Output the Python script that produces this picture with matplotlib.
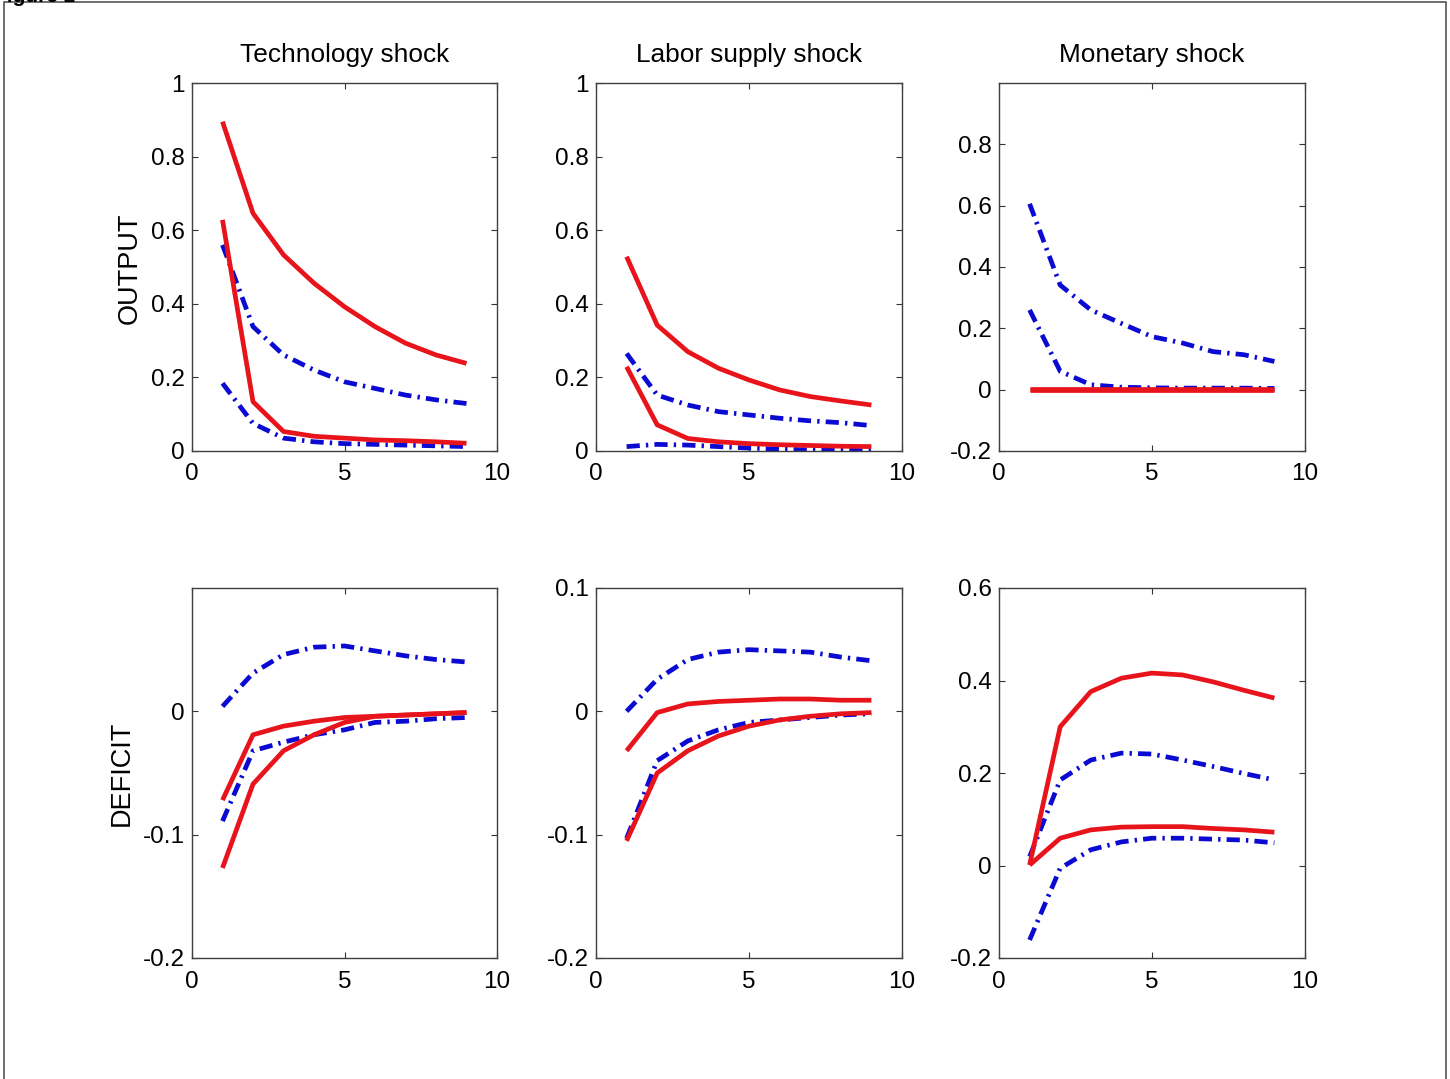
import matplotlib
matplotlib.use("Agg")
import matplotlib.pyplot as plt
from matplotlib.patches import Rectangle

plt.rcParams['font.family'] = ['Liberation Sans', 'DejaVu Sans']

periods = [1, 2, 3, 4, 5, 6, 7, 8, 9]
col_titles = ["Technology shock", "Labor supply shock", "Monetary shock"]
row_labels = ["OUTPUT", "DEFICIT"]

# OUTPUT responses
out_tech_red_hi = [0.895, 0.646, 0.533, 0.456, 0.392, 0.338, 0.293, 0.261, 0.238]
out_tech_red_lo = [0.628, 0.134, 0.053, 0.040, 0.035, 0.030, 0.028, 0.025, 0.021]
out_tech_blue_hi = [0.560, 0.338, 0.261, 0.220, 0.188, 0.170, 0.152, 0.139, 0.129]
out_tech_blue_lo = [0.184, 0.075, 0.035, 0.025, 0.020, 0.018, 0.016, 0.014, 0.012]

out_labor_red_hi = [0.528, 0.342, 0.270, 0.225, 0.193, 0.166, 0.148, 0.136, 0.125]
out_labor_red_lo = [0.229, 0.071, 0.034, 0.025, 0.020, 0.017, 0.015, 0.013, 0.012]
out_labor_blue_hi = [0.265, 0.152, 0.125, 0.107, 0.098, 0.089, 0.082, 0.077, 0.069]
out_labor_blue_lo = [0.012, 0.018, 0.016, 0.012, 0.008, 0.005, 0.003, 0.002, 0.001]

out_mon_red_hi = [0.002, 0.002, 0.002, 0.002, 0.002, 0.002, 0.002, 0.002, 0.002]
out_mon_red_lo = [0.0, 0.0, 0.0, 0.0, 0.0, 0.0, 0.0, 0.0, 0.0]
out_mon_blue_hi = [0.606, 0.341, 0.260, 0.216, 0.173, 0.152, 0.124, 0.114, 0.092]
out_mon_blue_lo = [0.260, 0.060, 0.016, 0.008, 0.006, 0.005, 0.005, 0.005, 0.004]

# DEFICIT responses
def_tech_red_hi = [-0.072, -0.019, -0.012, -0.008, -0.005, -0.004, -0.003, -0.002, -0.001]
def_tech_red_lo = [-0.127, -0.059, -0.032, -0.019, -0.009, -0.004, -0.003, -0.002, -0.001]
def_tech_blue_hi = [0.004, 0.031, 0.046, 0.052, 0.053, 0.049, 0.045, 0.042, 0.040]
def_tech_blue_lo = [-0.089, -0.032, -0.025, -0.019, -0.015, -0.009, -0.008, -0.006, -0.005]

def_labor_red_hi = [-0.032, -0.001, 0.006, 0.008, 0.009, 0.010, 0.010, 0.009, 0.009]
def_labor_red_lo = [-0.105, -0.050, -0.032, -0.020, -0.012, -0.007, -0.004, -0.002, -0.001]
def_labor_blue_hi = [0.000, 0.026, 0.042, 0.048, 0.050, 0.049, 0.048, 0.044, 0.041]
def_labor_blue_lo = [-0.103, -0.040, -0.024, -0.015, -0.009, -0.007, -0.005, -0.003, -0.002]

def_mon_red_hi = [0.001, 0.300, 0.376, 0.405, 0.416, 0.412, 0.397, 0.379, 0.362]
def_mon_red_lo = [0.001, 0.059, 0.077, 0.083, 0.084, 0.084, 0.080, 0.077, 0.072]
def_mon_blue_hi = [0.019, 0.185, 0.228, 0.243, 0.241, 0.228, 0.214, 0.199, 0.185]
def_mon_blue_lo = [-0.161, -0.006, 0.034, 0.051, 0.059, 0.059, 0.057, 0.055, 0.049]

panels = [
    [(out_tech_red_hi, out_tech_red_lo, out_tech_blue_hi, out_tech_blue_lo),
     (out_labor_red_hi, out_labor_red_lo, out_labor_blue_hi, out_labor_blue_lo),
     (out_mon_red_hi, out_mon_red_lo, out_mon_blue_hi, out_mon_blue_lo)],
    [(def_tech_red_hi, def_tech_red_lo, def_tech_blue_hi, def_tech_blue_lo),
     (def_labor_red_hi, def_labor_red_lo, def_labor_blue_hi, def_labor_blue_lo),
     (def_mon_red_hi, def_mon_red_lo, def_mon_blue_hi, def_mon_blue_lo)],
]

ylims = [[(0, 1), (0, 1), (-0.2, 1.0)],
         [(-0.2, 0.1), (-0.2, 0.1), (-0.2, 0.6)]]
yticks = [[[0, 0.2, 0.4, 0.6, 0.8, 1], [0, 0.2, 0.4, 0.6, 0.8, 1], [-0.2, 0, 0.2, 0.4, 0.6, 0.8]],
          [[-0.2, -0.1, 0], [-0.2, -0.1, 0, 0.1], [-0.2, 0, 0.2, 0.4, 0.6]]]
xticks = [0, 5, 10]

W, H = 1450, 1079
fig = plt.figure(figsize=(W / 100, H / 100), dpi=100)

col_lefts = [192, 596, 999]
col_widths = [305, 306, 306]
row_tops = [83, 588]
row_bottoms = [451, 958]

RED = '#e8141c'
BLUE = '#0a0ad2'
FS = 17.5
FS_TITLE = 18.9
FS_LABEL = 19.5

def fmt(v):
    if abs(v) < 1e-9:
        return "0"
    return f"{v:g}"

for r in range(2):
    for c in range(3):
        l = col_lefts[c] / W
        w = col_widths[c] / W
        b = 1 - row_bottoms[r] / H
        h = (row_bottoms[r] - row_tops[r]) / H
        ax = fig.add_axes([l, b, w, h])
        rh, rl, bh, bl = panels[r][c]
        ax.plot(periods, bh, color=BLUE, lw=3.4, dashes=(2.8, 1.3, 0.5, 1.3))
        ax.plot(periods, bl, color=BLUE, lw=3.4, dashes=(2.8, 1.3, 0.5, 1.3))
        ax.plot(periods, rh, color=RED, lw=3.4, solid_capstyle='butt')
        ax.plot(periods, rl, color=RED, lw=3.4, solid_capstyle='butt')
        ax.set_xlim(0, 10)
        ax.set_ylim(*ylims[r][c])
        ax.set_xticks(xticks)
        ax.set_xticklabels([str(t) for t in xticks])
        ax.set_yticks(yticks[r][c])
        ax.set_yticklabels([fmt(t) for t in yticks[r][c]])
        ax.tick_params(direction='in', length=4, width=0.8, color='#333333',
                       top=True, right=True, labelsize=FS, pad=5)
        ax.tick_params(axis='x', pad=9)
        for sp in ax.spines.values():
            sp.set_color('#404040')
            sp.set_linewidth(1.0)
        if r == 0:
            ax.set_title(col_titles[c], fontsize=FS_TITLE, pad=15)

fig.text(130 / W, 1 - 268 / H, row_labels[0], rotation=90, fontsize=FS_LABEL,
         ha='center', va='center')
fig.text(122 / W, 1 - 773 / H, row_labels[1], rotation=90, fontsize=FS_LABEL,
         ha='center', va='center')

fig.patches.append(Rectangle((3.5 / W, -0.01), (1446 - 3.5) / W, 1.0 - 1.5 / H + 0.01,
                             transform=fig.transFigure, fill=False,
                             edgecolor='#555555', lw=1.2))
fig.text(-0.004, 1 + 3 / H, "Figure 2", fontsize=15, fontweight='bold',
         ha='left', va='center')

fig.savefig("out.png", dpi=100)
